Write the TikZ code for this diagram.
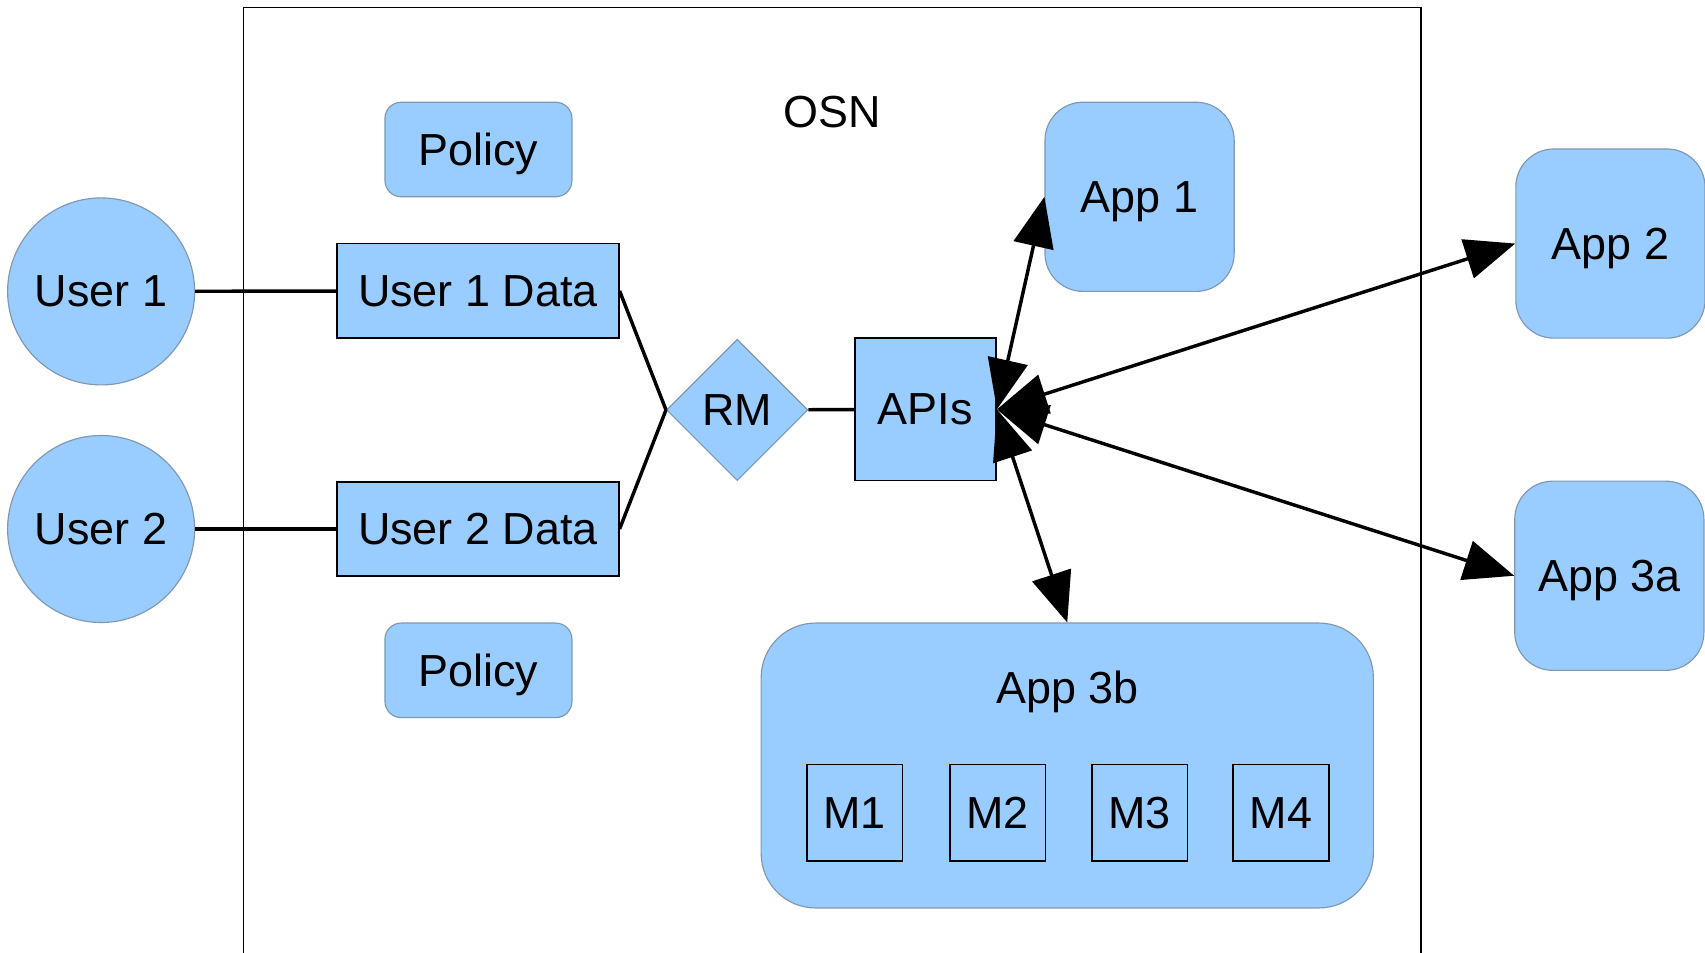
\documentclass[tikz,border=0pt]{standalone}
\usepackage{fontspec}
\setmainfont{Liberation Sans}
\usetikzlibrary{shapes.geometric, arrows.meta}
\definecolor{lblue}{HTML}{99CCFF}
\definecolor{edge}{HTML}{7F98B2}

\begin{document}
\begin{tikzpicture}[
  font=\fontsize{23.5}{28}\selectfont,
  every node/.append style={text depth=0pt},
  user/.style={circle, fill=lblue, draw=edge, line width=0.6pt, minimum size=3.44cm, inner sep=0pt},
  data/.style={rectangle, fill=lblue, draw=black, line width=0.9pt, minimum width=5.18cm, minimum height=1.74cm, inner sep=0pt},
  pol/.style={rectangle, rounded corners=0.3cm, fill=lblue, draw=edge, line width=0.6pt, minimum width=3.44cm, minimum height=1.74cm, inner sep=0pt},
  app/.style={rectangle, rounded corners=0.7cm, fill=lblue, draw=edge, line width=0.6pt, minimum size=3.48cm, inner sep=0pt},
  mod/.style={rectangle, fill=lblue, draw=black, line width=0.9pt, minimum width=1.76cm, minimum height=1.78cm, inner sep=0pt},
  link/.style={line width=1.8pt},
  both/.style={line width=1.8pt, >={Triangle[length=0.92cm, width=0.74cm]}, <->},
]
 \useasboundingbox (0,0) rectangle (31.36,17.52);
 \draw[line width=0.8pt] (4.48,0) -- (4.48,17.38) -- (26.14,17.38) -- (26.14,0);
 \node (OSN) at (15.30,15.46) {OSN};
 \node[user] (U1) at (1.86,12.16) {User 1};
 \node[user] (U2) at (1.86,7.79) {User 2};
 \node[pol] (P1) at (8.80,14.77) {Policy};
 \node[data] (U1D) at (8.79,12.17) {User 1 Data};
 \node[data] (U2D) at (8.79,7.79) {User 2 Data};
 \node[pol] (P2) at (8.80,5.19) {Policy};
 \node[diamond, fill=lblue, draw=edge, line width=0.6pt, minimum size=2.6cm, inner sep=0pt] (RM) at (13.56,9.98) {RM};
 \node[data, minimum width=2.6cm, minimum height=2.62cm] (API) at (17.02,9.99) {APIs};
 \node[app] (A1) at (20.96,13.90) {App 1};
 \node[app] (A2) at (29.62,13.04) {App 2};
 \node[app] (A3a) at (29.60,6.93) {App 3a};
 \node[app, rounded corners=1cm, minimum width=11.26cm, minimum height=5.24cm] (A3b) at (19.63,3.44) {};
 \node (A3bT) at (19.64,4.88) {App 3b};
 \foreach \i/\x in {1/15.72, 2/18.35, 3/20.96, 4/23.56}
  \node[mod] (M\i) at (\x,2.57) {M\i};
 \draw[link] (U1) -- (U1D);
 \draw[link] (U2) -- (U2D);
 \draw[link] (U1D.east) -- (RM.west);
 \draw[link] (U2D.east) -- (RM.west);
 \draw[link] (RM) -- (API);
 \draw[both] (API.east) -- (A1.west);
 \draw[both] (API.east) -- (A2.west);
 \draw[both] (API.east) -- (A3a.west);
 \draw[both] (API.east) -- (A3b.north);
\end{tikzpicture}
\end{document}
